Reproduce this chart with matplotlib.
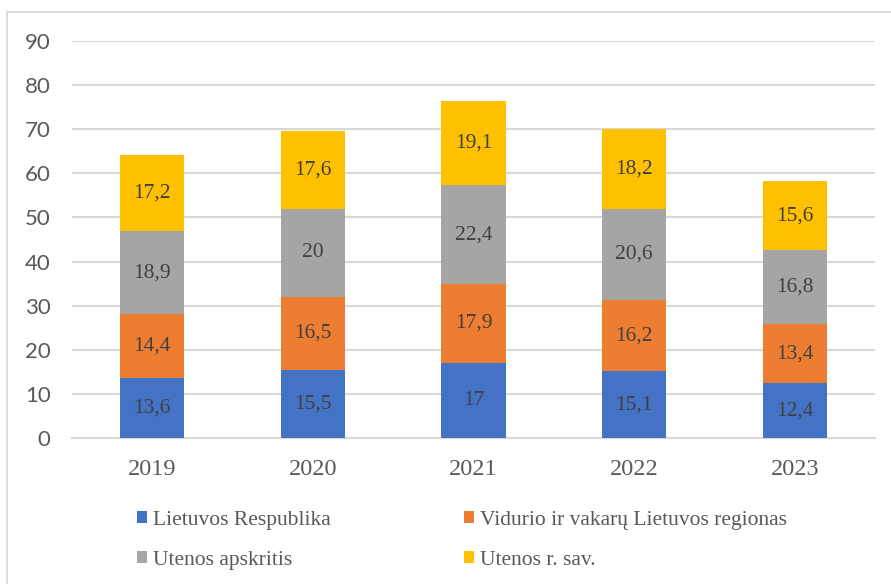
import matplotlib
matplotlib.use("Agg")
import matplotlib.pyplot as plt
from matplotlib.patches import Rectangle, Patch
import numpy as np

years = ["2019", "2020", "2021", "2022", "2023"]
series_names = ["Lietuvos Respublika", "Vidurio ir vakarų Lietuvos regionas",
                "Utenos apskritis", "Utenos r. sav."]
lietuvos = [13.6, 15.5, 17.0, 15.1, 12.4]
vidurio = [14.4, 16.5, 17.9, 16.2, 13.4]
utenos_aps = [18.9, 20.0, 22.4, 20.6, 16.8]
utenos_sav = [17.2, 17.6, 19.1, 18.2, 15.6]
colors = ["#4472C4", "#ED7D31", "#A5A5A5", "#FFC000"]
yticks = list(range(0, 100, 10))

W, H = 891, 584
fig = plt.figure(figsize=(W / 100, H / 100), dpi=100)
fig.patches.append(Rectangle((7 / W, -0.1), 1.2, 1 - 12 / H + 0.1, transform=fig.transFigure,
                             fill=False, edgecolor="#D9D9D9", linewidth=1.3, zorder=0))
ax = fig.add_axes([72 / W, 1 - 438 / H, (875 - 72) / W, (438 - 41) / H])

x = np.arange(len(years))
bottom = np.zeros(len(years))
handles = []
for name, vals, c in zip(series_names, [lietuvos, vidurio, utenos_aps, utenos_sav], colors):
    bars = ax.bar(x, vals, width=0.4, bottom=bottom, color=c, zorder=3, label=name)
    labels = [f"{v:g}".replace(".", ",") for v in vals]
    ax.bar_label(bars, labels=labels, label_type="center", fontsize=15.5,
                 family="Liberation Serif", color="#404040")
    bottom += np.array(vals)
    handles.append(Patch(facecolor=c, label=name))

ax.set_xlim(-0.5, len(years) - 0.5)
ax.set_ylim(0, 90)
ax.set_yticks(yticks)
ax.set_xticks(x)
ax.set_xticklabels(years, family="Liberation Serif", fontsize=17.5, color="#595959")
for lab in ax.get_yticklabels():
    lab.set_family("Lato")
    lab.set_fontsize(16)
    lab.set_color("#595959")
ax.tick_params(axis="y", length=0, pad=15.5)
ax.tick_params(axis="x", length=0, pad=15)
ax.grid(axis="y", color="#D9D9D9", linewidth=1.5, zorder=0)
ax.set_axisbelow(True)
for s in ["top", "right", "left"]:
    ax.spines[s].set_visible(False)
ax.spines["bottom"].set_color("#D9D9D9")
ax.spines["bottom"].set_linewidth(1.5)

order = [0, 2, 1, 3]
leg = fig.legend([handles[i] for i in order], [series_names[i] for i in order],
                 ncol=2, loc="upper left", bbox_to_anchor=(137 / W, 1 - 511 / H),
                 frameon=False, prop={"family": "Liberation Serif", "size": 15.5},
                 labelcolor="#595959", handlelength=0.48, handleheight=0.48,
                 handletextpad=0.25, columnspacing=6.2, labelspacing=0.98,
                 borderpad=0, borderaxespad=0)

fig.savefig("out.png", dpi=100)
